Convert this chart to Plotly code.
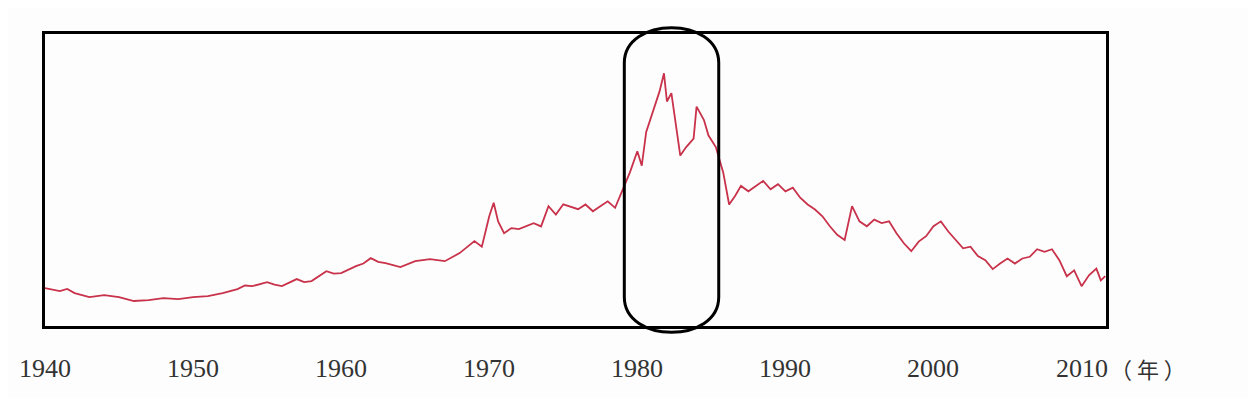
import plotly.graph_objects as go

years = [1940,1940.5,1941,1941.5,1942,1943,1944,1945,1946,1947,1948,1949,1950,1951,1952,1953,1953.5,1954,1955,1955.5,1956,1957,1957.5,1958,1959,1959.5,1960,1961,1961.5,1962,1962.5,1963,1964,1965,1966,1967,1968,1969,1969.5,1970,1970.3,1970.6,1971,1971.5,1972,1973,1973.5,1974,1974.5,1975,1976,1976.5,1977,1977.5,1978,1978.5,1979,1979.5,1980,1980.3,1980.6,1981,1981.5,1981.8,1982,1982.3,1982.6,1982.9,1983.3,1983.8,1984,1984.5,1984.8,1985.3,1985.8,1986.2,1986.6,1987,1987.5,1988,1988.5,1989,1989.5,1990,1990.5,1991,1991.5,1992,1992.5,1993,1993.5,1994,1994.5,1995,1995.5,1996,1996.5,1997,1997.5,1998,1998.5,1999,1999.5,2000,2000.5,2001,2001.5,2002,2002.5,2003,2003.5,2004,2004.5,2005,2005.5,2006,2006.5,2007,2007.5,2008,2008.5,2009,2009.5,2010,2010.5,2011,2011.3,2011.6]
yields = [2.54,2.45,2.37,2.5,2.25,2.01,2.13,2.01,1.78,1.83,1.95,1.89,2.01,2.07,2.25,2.49,2.7,2.66,2.9,2.75,2.66,3.08,2.9,2.96,3.55,3.4,3.43,3.85,4.0,4.32,4.1,4.02,3.79,4.14,4.26,4.14,4.62,5.33,5.0,6.8,7.6,6.5,5.8,6.1,6.04,6.39,6.2,7.4,6.9,7.51,7.22,7.5,7.1,7.4,7.69,7.3,8.4,9.4,10.65,9.8,11.8,12.9,14.2,15.27,13.6,14.1,12.2,10.4,10.9,11.4,13.3,12.5,11.6,10.9,9.4,7.5,8.0,8.6,8.28,8.58,8.9,8.4,8.7,8.28,8.5,7.9,7.5,7.2,6.8,6.21,5.7,5.4,7.4,6.5,6.21,6.6,6.4,6.5,5.8,5.2,4.73,5.3,5.62,6.21,6.5,5.9,5.4,4.9,5.0,4.44,4.2,3.67,4.0,4.3,4.0,4.3,4.4,4.85,4.7,4.85,4.2,3.25,3.6,2.66,3.3,3.7,3.0,3.25,2.9,1.78]
tick_years = [1940,1950,1960,1970,1980,1990,2000,2010]
unit_label = "（ 年 ）"

fig = go.Figure(go.Scatter(x=years, y=yields, mode="lines",
                           line=dict(color="#c8324a", width=1.8), hoverinfo="skip"))

ann = [dict(x=t, y=-0.144, xref="x", yref="paper", text=str(t), showarrow=False,
            font=dict(family="Liberation Serif", size=26, color="#333333"), yanchor="middle")
       for t in tick_years]
ann.append(dict(x=1.04, y=-0.144, xref="paper", yref="paper", text=unit_label, showarrow=False,
                font=dict(family="Noto Sans CJK SC", size=22, color="#333333"), xanchor="center", yanchor="middle"))

x0, x1 = 0.546, 0.635
ry = 0.161
yb, yt = -0.062, 1.062
path = (f"M {x0},{yt-ry} C {x0},{yt} {x1},{yt} {x1},{yt-ry} "
        f"L {x1},{yb+ry} C {x1},{yb} {x0},{yb} {x0},{yb+ry} Z")

fig.update_layout(
    width=1240, height=390, margin=dict(l=37, r=142, t=26, b=72),
    paper_bgcolor="#fdfdfe", plot_bgcolor="#fdfdfe", showlegend=False,
    xaxis=dict(range=[1940, 2011.65], showgrid=False, zeroline=False, showticklabels=False,
               showline=True, linecolor="black", linewidth=3, mirror=True, ticks=""),
    yaxis=dict(range=[0.3, 17.6], showgrid=False, zeroline=False, showticklabels=False,
               showline=True, linecolor="black", linewidth=3, mirror=True, ticks=""),
    annotations=ann,
    shapes=[dict(type="path", path=path, xref="paper", yref="paper",
                 line=dict(color="black", width=3), fillcolor="rgba(0,0,0,0)")],
)
fig.write_html("out.html")
